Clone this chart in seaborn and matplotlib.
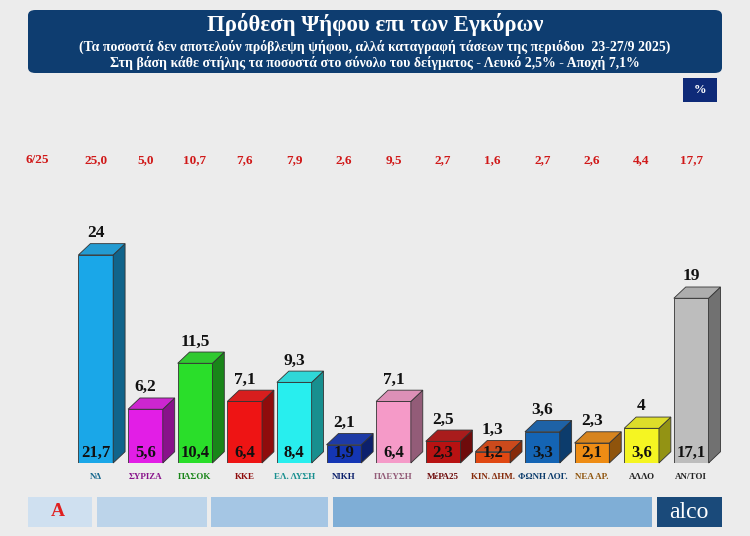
import numpy as np
import pandas as pd
import matplotlib
matplotlib.use("Agg")
import matplotlib.pyplot as plt
from matplotlib.patches import Polygon, Rectangle, FancyBboxPatch
import matplotlib.colors as mcolors
import seaborn as sns

# data
parties = ["ΝΔ", "ΣΥΡΙΖΑ", "ΠΑΣΟΚ", "ΚΚΕ", "ΕΛ. ΛΥΣΗ", "ΝΙΚΗ", "ΠΛΕΥΣΗ",
           "ΜέΡΑ25", "ΚΙΝ. ΔΗΜ.", "ΦΩΝΗ ΛΟΓ.", "ΝΕΑ ΑΡ.", "ΑΛΛΟ", "ΑΝ/ΤΟΙ"]
valid_share = [24, 6.2, 11.5, 7.1, 9.3, 2.1, 7.1, 2.5, 1.3, 3.6, 2.3, 4, 19]
sample_share = [21.7, 5.6, 10.4, 6.4, 8.4, 1.9, 6.4, 2.3, 1.2, 3.3, 2.1, 3.6, 17.1]
previous = [25.0, 5.0, 10.7, 7.6, 7.9, 2.6, 9.5, 2.7, 1.6, 2.7, 2.6, 4.4, 17.7]
colors = ["#1aa7e8", "#e21ee6", "#2ade2a", "#ee1414", "#28eeee", "#1436b4", "#f59ac8",
          "#b81212", "#e04812", "#1464b4", "#ee8c14", "#f5f522", "#bdbdbd"]

def fmt(v):
    s = f"{v:.1f}".replace(".", ",")
    return s[:-2] if s.endswith(",0") else s

sns.set_theme(style="white")
plt.rcParams["font.family"] = ["Liberation Serif", "DejaVu Serif"]

fig = plt.figure(figsize=(7.5, 5.36), dpi=100)
fig.patch.set_facecolor("#ececec")
W, H = 750, 536

def fx(px):
    return px / W

def fy(py):
    return 1 - py / H

# banner
fig.patches.append(FancyBboxPatch((fx(28), fy(73)), fx(694), 63 / H, transform=fig.transFigure,
                                  boxstyle="round,pad=0,rounding_size=0.01",
                                  facecolor="#0e3d70", edgecolor="none"))
fig.text(0.5, fy(25), "Πρόθεση Ψήφου επι των Εγκύρων", ha="center", va="center",
         color="white", fontsize=16.5, fontweight="bold")
fig.text(0.5, fy(47), "(Τα ποσοστά δεν αποτελούν πρόβλεψη ψήφου, αλλά καταγραφή τάσεων της περιόδου  23-27/9 2025)",
         ha="center", va="center", color="white", fontsize=10, fontweight="bold")
fig.text(0.5, fy(63), "Στη βάση κάθε στήλης τα ποσοστά στο σύνολο του δείγματος - Λευκό 2,5% - Αποχή 7,1%",
         ha="center", va="center", color="white", fontsize=10, fontweight="bold")
fig.patches.append(Rectangle((fx(683), fy(102)), fx(34), 24 / H, transform=fig.transFigure,
                             facecolor="#0e2a78", edgecolor="none"))
fig.text(fx(700), fy(90), "%", ha="center", va="center", color="white", fontsize=9, fontweight="bold")

# bars axis
ax = fig.add_axes([fx(71), fy(463), fx(645), (463 - 160) / H])
df = pd.DataFrame({"party": parties, "value": valid_share})
sns.barplot(data=df, x="party", y="value", hue="party", palette=colors, legend=False,
            width=0.7, edgecolor="#333333", linewidth=0.6, saturation=1, ax=ax)
ax.set_xlim(-0.5, 12.5)
ax.set_ylim(0, 303 / 8.67)
ax.axis("off")

dx, dy, hw = 0.24, 1.3, 0.35
for i, (v, c) in enumerate(zip(valid_share, colors)):
    side = mcolors.to_rgb(c)
    dark = tuple(x * 0.6 for x in side)
    top = tuple(min(1, x * 0.85 + 0.05) for x in side)
    ax.add_patch(Polygon([(i + hw, 0), (i + hw + dx, dy), (i + hw + dx, v + dy), (i + hw, v)],
                         facecolor=dark, edgecolor="#333333", linewidth=0.6, clip_on=False))
    ax.add_patch(Polygon([(i - hw, v), (i - hw + dx, v + dy), (i + hw + dx, v + dy), (i + hw, v)],
                         facecolor=top, edgecolor="#333333", linewidth=0.6, clip_on=False))
    ax.text(i, v + dy + 0.3, fmt(v), ha="center", va="bottom", fontsize=12.5, fontweight="bold",
            color="#111111")
    ax.text(i, 0.25, fmt(sample_share[i]), ha="center", va="bottom", fontsize=12,
            fontweight="bold", color="#111111")
    ax.text(i, 303 / 8.67, f"{previous[i]:.1f}".replace(".", ","),
            ha="center", va="center", fontsize=9.5, fontweight="bold", color="#d01818")
    ax.text(i, -1.2, parties[i], ha="center", va="top", fontsize=6.5, fontweight="bold",
            color="#222222" if i > 10 else dark)
fig.text(fx(37), fy(160), "6/25", ha="center", va="center", fontsize=9.5, fontweight="bold",
         color="#d01818")

# bottom strip
for x0, x1, col in [(28, 92, "#cfe0f0"), (97, 207, "#bcd4ea"), (211, 328, "#a5c6e4"),
                    (333, 652, "#7faed6"), (657, 722, "#1a4a7a")]:
    fig.patches.append(Rectangle((fx(x0), fy(527)), fx(x1 - x0), 30 / H, transform=fig.transFigure,
                                 facecolor=col, edgecolor="none"))
fig.text(fx(58), fy(512), "A", ha="center", va="center", color="#e02020", fontsize=14, fontweight="bold")
fig.text(fx(689), fy(512), "alco", ha="center", va="center", color="white", fontsize=17)

fig.savefig("out.png", dpi=100, facecolor=fig.get_facecolor())
